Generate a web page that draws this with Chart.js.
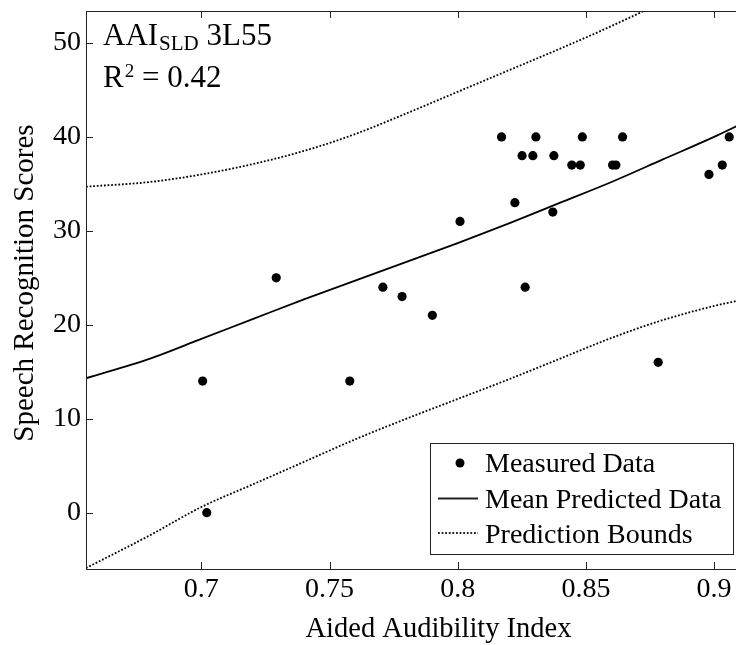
<!DOCTYPE html>
<html>
<head>
<meta charset="utf-8">
<title>AAI SLD 3L55</title>
<script src="https://cdn.jsdelivr.net/npm/chart.js@4.4.0/dist/chart.umd.min.js"></script>
<style>
  html, body { margin: 0; padding: 0; background: #fff; }
  /* the original figure is cut off on the right, so the canvas is a bit wider than the window */
  #wrap { width: 736px; height: 645px; overflow: hidden; }
  canvas { display: block; }
</style>
</head>
<body>
<div id="wrap"><canvas id="chart" width="800" height="645"></canvas></div>
<script>
// measured points
const measuredX = [0.7005, 0.7021, 0.7292, 0.7579, 0.7708, 0.7783, 0.7901, 0.8009, 0.8171, 0.8223, 0.8251, 0.8263, 0.8293,
                   0.8305, 0.8371, 0.8375, 0.8445, 0.8478, 0.8486, 0.8604, 0.8617, 0.8643, 0.8782, 0.8980, 0.9032, 0.9059];
const measuredY = [14, 0, 25, 14, 24, 23, 21, 31, 40, 33, 38, 24, 38,
                   40, 32, 38, 37, 37, 40, 37, 37, 40, 16, 36, 37, 40];

// fitted curve and prediction bounds, sampled along x
const fitX   = [0.655, 0.68, 0.70, 0.72, 0.74, 0.76, 0.78, 0.80, 0.82, 0.84, 0.86, 0.88, 0.90, 0.91];
const meanY  = [14.3, 16.4, 18.5, 20.6, 22.7, 24.7, 26.7, 28.7, 30.8, 33.0, 35.2, 37.6, 40.0, 41.3];
const upperY = [34.7, 35.2, 36.0, 37.1, 38.5, 40.3, 42.5, 44.8, 47.1, 49.4, 51.8, 54.4, 57.3, 58.8];
const lowerY = [-5.9, -2.4, 0.6, 3.0, 5.4, 7.8, 10.0, 12.1, 14.2, 16.4, 18.6, 20.5, 22.0, 22.6];

const xTicks = [0.7, 0.75, 0.8, 0.85, 0.9];
const yTicks = [0, 10, 20, 30, 40, 50];
const legendLabels = ['Measured Data', 'Mean Predicted Data', 'Prediction Bounds'];
const yTitle = 'Speech Recognition Scores';

const serif = '"Liberation Serif", "Times New Roman", serif';
const toPoints = (xs, ys) => xs.map((x, i) => ({ x: x, y: ys[i] }));

// box, inward ticks, y title, text annotation and legend, drawn MATLAB-style
const frame = {
  id: 'frame',
  afterDraw(chart) {
    const { ctx, chartArea: a, scales } = chart;
    ctx.save();
    ctx.strokeStyle = '#222';
    ctx.lineWidth = 1;
    ctx.strokeRect(a.left + 0.5, a.top + 0.5, a.right - a.left, a.bottom - a.top);

    ctx.beginPath();
    xTicks.forEach(v => {
      const px = Math.round(scales.x.getPixelForValue(v)) + 0.5;
      ctx.moveTo(px, a.bottom); ctx.lineTo(px, a.bottom - 7);
      ctx.moveTo(px, a.top); ctx.lineTo(px, a.top + 7);
    });
    yTicks.forEach(v => {
      const py = Math.round(scales.y.getPixelForValue(v)) + 0.5;
      ctx.moveTo(a.left, py); ctx.lineTo(a.left + 7, py);
      ctx.moveTo(a.right, py); ctx.lineTo(a.right - 7, py);
    });
    ctx.stroke();

    ctx.fillStyle = '#000';

    // y axis title (sits a little above the middle of the axis in the original)
    ctx.save();
    ctx.translate(33, 283);
    ctx.rotate(-Math.PI / 2);
    ctx.font = '29px ' + serif;
    ctx.textAlign = 'center';
    ctx.textBaseline = 'alphabetic';
    ctx.fillText(yTitle, 0, 0);
    ctx.restore();

    // annotation top-left
    ctx.textBaseline = 'alphabetic';
    ctx.textAlign = 'left';
    let x = 103;
    ctx.font = '31px ' + serif;
    ctx.fillText('AAI', x, 45);
    x += ctx.measureText('AAI').width + 1;
    ctx.font = '21px ' + serif;
    ctx.fillText('SLD', x, 50);
    x += ctx.measureText('SLD').width;
    ctx.font = '31px ' + serif;
    ctx.fillText(' 3L55', x, 45);

    x = 103;
    ctx.fillText('R', x, 87);
    x += ctx.measureText('R').width + 1;
    ctx.font = '19px ' + serif;
    ctx.fillText('2', x, 77);
    x += ctx.measureText('2').width;
    ctx.font = '31px ' + serif;
    ctx.fillText(' = 0.42', x, 87);

    // legend box
    ctx.fillStyle = '#fff';
    ctx.fillRect(430, 443, 304, 112);
    ctx.strokeRect(430.5, 443.5, 303, 111);
    ctx.fillStyle = '#000';
    ctx.beginPath();
    ctx.arc(460, 463, 4.5, 0, Math.PI * 2);
    ctx.fill();
    ctx.lineWidth = 1.8;
    ctx.beginPath();
    ctx.moveTo(438, 498.5); ctx.lineTo(478, 498.5);
    ctx.stroke();
    ctx.lineWidth = 1.8;
    ctx.setLineDash([1.8, 1.8]);
    ctx.beginPath();
    ctx.moveTo(438, 533); ctx.lineTo(478, 533);
    ctx.stroke();
    ctx.setLineDash([]);
    ctx.font = '28px ' + serif;
    ctx.fillText(legendLabels[0], 485, 472);
    ctx.fillText(legendLabels[1], 485, 508);
    ctx.fillText(legendLabels[2], 485, 543);
    ctx.restore();
  }
};

new Chart(document.getElementById('chart'), {
  type: 'scatter',
  data: {
    datasets: [
      {
        label: legendLabels[0],
        data: toPoints(measuredX, measuredY),
        showLine: false,
        pointRadius: 4.6,
        pointBackgroundColor: '#000',
        pointBorderColor: '#000',
        pointBorderWidth: 0,
      },
      {
        label: legendLabels[1],
        data: toPoints(fitX, meanY),
        showLine: true,
        pointRadius: 0,
        borderColor: '#000',
        borderWidth: 1.8,
        cubicInterpolationMode: 'monotone',
      },
      {
        label: legendLabels[2],
        data: toPoints(fitX, upperY),
        showLine: true,
        pointRadius: 0,
        borderColor: '#000',
        borderWidth: 1.8,
        borderDash: [1.8, 1.8],
        cubicInterpolationMode: 'monotone',
      },
      {
        label: legendLabels[2] + ' (lower)',
        data: toPoints(fitX, lowerY),
        showLine: true,
        pointRadius: 0,
        borderColor: '#000',
        borderWidth: 1.8,
        borderDash: [1.8, 1.8],
        cubicInterpolationMode: 'monotone',
      },
    ],
  },
  options: {
    responsive: false,
    animation: false,
    layout: { padding: { top: 11, right: 9, left: 0, bottom: 0 } },
    plugins: { legend: { display: false }, tooltip: { enabled: false } },
    scales: {
      x: {
        type: 'linear',
        min: 0.655,
        max: 0.93,
        afterBuildTicks: (s) => { s.ticks = xTicks.map(v => ({ value: v })); },
        afterFit: (s) => { s.height = 76; s.paddingLeft = 0; s.paddingRight = 0; },
        grid: { display: false, drawTicks: false },
        border: { display: false },
        ticks: {
          color: '#000',
          font: { family: serif, size: 28 },
          padding: 4,
          maxRotation: 0,
          autoSkip: false,
          callback: (v) => String(v),
        },
        title: {
          display: true,
          text: 'Aided Audibility Index',
          color: '#000',
          font: { family: serif, size: 28.5 },
          padding: { top: 0, bottom: -2 },
        },
      },
      y: {
        type: 'linear',
        min: -6,
        max: 53.4,
        afterBuildTicks: (s) => { s.ticks = yTicks.map(v => ({ value: v })); },
        afterFit: (s) => { s.width = 86; s.paddingTop = 0; s.paddingBottom = 0; },
        grid: { display: false, drawTicks: false },
        border: { display: false },
        ticks: {
          color: '#000',
          font: { family: serif, size: 28 },
          padding: 5,
          callback: (v) => String(v),
        },
      },
    },
  },
  plugins: [frame],
});
</script>
</body>
</html>
